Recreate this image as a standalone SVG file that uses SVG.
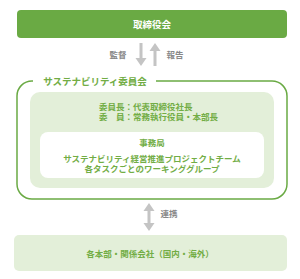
<svg xmlns="http://www.w3.org/2000/svg" width="300" height="279" viewBox="0 0 300 279">
<style>
text{font-family:"Noto Sans CJK JP","Noto Sans",sans-serif;font-size:8.5px;text-anchor:middle;dominant-baseline:central}
.g{fill:#72ad45;font-weight:700}
.w{fill:#fff;font-weight:700;font-size:9.5px}
.l{fill:#888;font-weight:700}
.lf{fill:#e3efd9}
.ar{fill:#c4c4c4}
</style>
<rect width="300" height="279" fill="#fff"/>
<g id="board">
<rect x="17" y="10" width="270" height="28" rx="4" fill="#6aaa44"/>
<text class="w" x="152" y="24">取締役会</text>
</g>
<g id="committee">
<path d="M33 81 H32 A15 15 0 0 0 17 96 V184 A15 15 0 0 0 32 199 H272 A15 15 0 0 0 287 184 V96 A15 15 0 0 0 272 81 H156" fill="none" stroke="#6aaa44" stroke-width="1.5"/>
<text class="g" x="95" y="81" style="font-size:9.5px">サステナビリティ委員会</text>
<rect class="lf" x="30" y="92" width="244" height="96" rx="10"/>
<text class="g" x="99" y="106" style="text-anchor:start">委員長：代表取締役社長</text>
<text class="g" x="99" y="116" style="text-anchor:start">委　員：常務執行役員・本部長</text>
</g>
<g id="secretariat">
<rect x="40" y="132" width="224" height="46" rx="8" fill="#fff"/>
<text class="g" x="152" y="142">事務局</text>
<text class="g" x="152" y="158">サステナビリティ経営推進プロジェクトチーム</text>
<text class="g" x="152" y="168">各タスクごとのワーキンググループ</text>
</g>
<g id="divisions">
<rect class="lf" x="14" y="235" width="273" height="36" rx="5"/>
<text class="g" x="150" y="253">各本部・関係会社（国内・海外）</text>
</g>
<g id="connectors">
<path class="ar" d="M139.5 43 h3 v15 h4 l-5.5 8 l-5.5 -8 h4 z"/>
<path class="ar" d="M153.5 66 h3 v-15 h4 l-5.5 -8 l-5.5 8 h4 z"/>
<text class="l" x="118" y="54">監督</text>
<text class="l" x="175" y="54">報告</text>
<path class="ar" d="M149 203 l5.5 8 h-4 v12 h4 l-5.5 8 l-5.5 -8 h4 v-12 h-4 z"/>
<text class="l" x="169" y="213">連携</text>
</g>
</svg>
